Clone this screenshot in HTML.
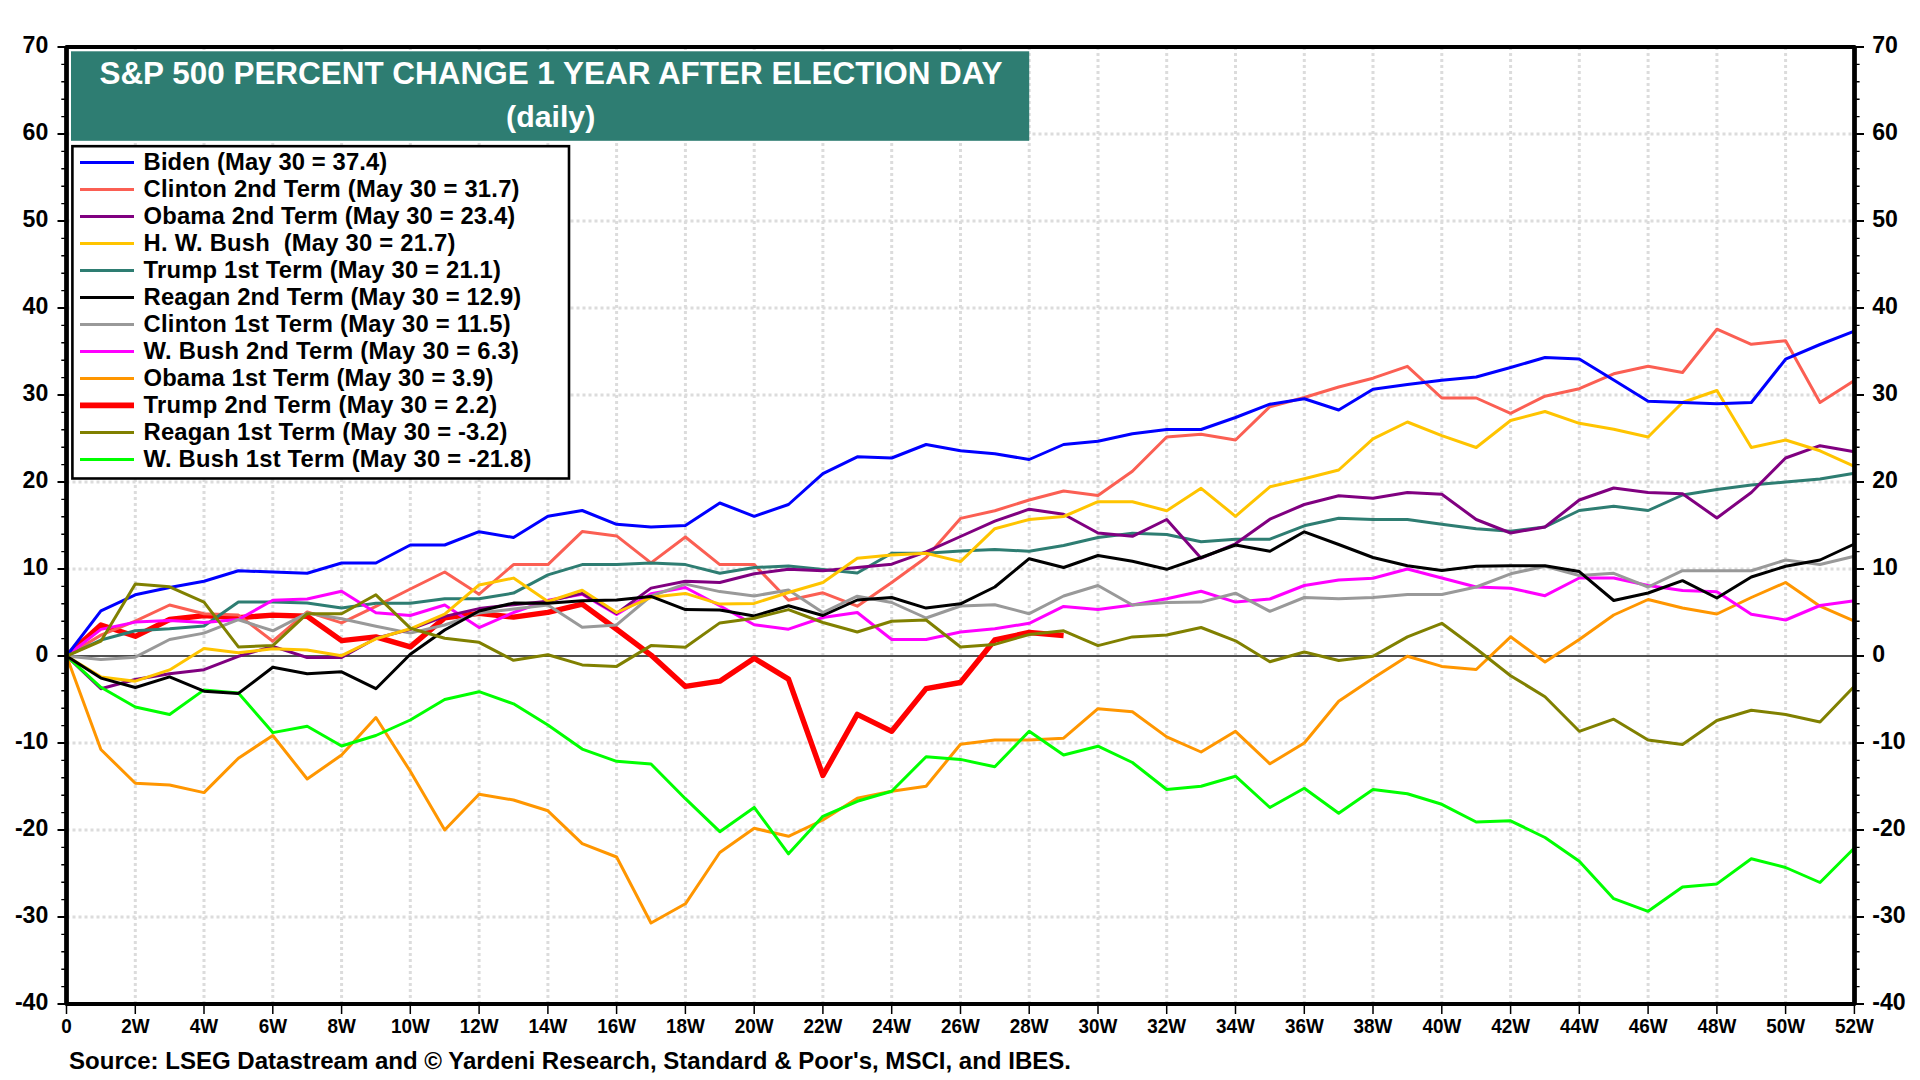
<!DOCTYPE html><html><head><meta charset="utf-8"><title>S&amp;P 500 Percent Change 1 Year After Election Day</title>
<style>html,body{margin:0;padding:0;background:#fff}body{width:1920px;height:1080px;overflow:hidden}svg{display:block}text{font-family:"Liberation Sans",sans-serif;font-weight:bold}</style></head><body>
<svg width="1920" height="1080" viewBox="0 0 1920 1080">
<rect width="1920" height="1080" fill="#fff"/>
<path d="M135.3 47V1002M204.0 47V1002M272.8 47V1002M341.6 47V1002M410.3 47V1002M479.1 47V1002M547.9 47V1002M616.6 47V1002M685.4 47V1002M754.2 47V1002M822.9 47V1002M891.7 47V1002M960.5 47V1002M1029.2 47V1002M1098.0 47V1002M1166.7 47V1002M1235.5 47V1002M1304.3 47V1002M1373.0 47V1002M1441.8 47V1002M1510.6 47V1002M1579.3 47V1002M1648.1 47V1002M1716.9 47V1002M1785.6 47V1002M66.5 917.0H1852M66.5 830.0H1852M66.5 743.0H1852M66.5 569.0H1852M66.5 482.0H1852M66.5 395.0H1852M66.5 308.0H1852M66.5 221.0H1852M66.5 134.0H1852" stroke="#dcdcdc" stroke-width="3" stroke-dasharray="3 3" fill="none"/>
<path d="M67 656.0H1854" stroke="#505050" stroke-width="2" fill="none"/>
<path d="M66.5 656.0 L100.9 625.0 L135.3 636.3 L169.6 619.5 L204.0 615.6 L238.4 617.7 L272.8 615.1 L307.2 616.2 L341.6 640.6 L375.9 636.9 L410.3 646.9 L444.7 617.9 L479.1 613.4 L513.5 617.1 L547.9 612.3 L582.2 604.1 L616.6 629.2 L651.0 655.1 L685.4 686.4 L719.8 681.2 L754.2 658.3 L788.5 679.1 L822.9 775.5 L857.3 714.3 L891.7 731.3 L926.1 688.6 L960.5 682.5 L994.8 640.0 L1029.2 632.5 L1063.6 635.5" stroke="#ff0000" stroke-width="5.4" fill="none" stroke-linejoin="round" stroke-linecap="butt"/>
<path d="M66.5 656.0 L100.9 749.5 L135.3 783.3 L169.6 785.0 L204.0 792.6 L238.4 758.2 L272.8 735.5 L307.2 779.0 L341.6 755.0 L375.9 717.5 L410.3 771.3 L444.7 830.0 L479.1 794.3 L513.5 800.0 L547.9 810.8 L582.2 843.7 L616.6 857.0 L651.0 923.0 L685.4 903.8 L719.8 852.5 L754.2 828.3 L788.5 836.3 L822.9 820.0 L857.3 798.2 L891.7 791.3 L926.1 786.2 L960.5 744.3 L994.8 740.0 L1029.2 740.0 L1063.6 738.2 L1098.0 708.7 L1132.4 711.7 L1166.7 736.9 L1201.1 752.0 L1235.5 731.3 L1269.9 763.8 L1304.3 743.0 L1338.7 701.2 L1373.0 678.3 L1407.4 656.3 L1441.8 666.4 L1476.2 669.5 L1510.6 636.8 L1545.0 662.0 L1579.3 639.5 L1613.7 615.0 L1648.1 599.5 L1682.5 608.0 L1716.9 614.0 L1751.3 597.5 L1785.6 582.5 L1820.0 606.2 L1854.4 621.2" stroke="#ff9600" stroke-width="3" fill="none" stroke-linejoin="round" stroke-linecap="butt"/>
<path d="M66.5 656.0 L100.9 635.1 L135.3 621.2 L169.6 605.0 L204.0 613.7 L238.4 615.1 L272.8 641.2 L307.2 611.9 L341.6 622.9 L375.9 606.4 L410.3 589.0 L444.7 572.0 L479.1 594.2 L513.5 564.6 L547.9 564.6 L582.2 531.6 L616.6 535.9 L651.0 562.9 L685.4 537.0 L719.8 564.6 L754.2 564.6 L788.5 600.3 L822.9 592.8 L857.3 606.2 L891.7 582.5 L926.1 557.5 L960.5 518.4 L994.8 510.7 L1029.2 500.0 L1063.6 491.0 L1098.0 495.5 L1132.4 471.2 L1166.7 437.0 L1201.1 434.2 L1235.5 440.0 L1269.9 406.7 L1304.3 397.5 L1338.7 387.0 L1373.0 378.2 L1407.4 366.3 L1441.8 398.0 L1476.2 398.0 L1510.6 413.3 L1545.0 396.2 L1579.3 388.7 L1613.7 373.8 L1648.1 366.3 L1682.5 372.5 L1716.9 329.2 L1751.3 344.3 L1785.6 340.7 L1820.0 402.5 L1854.4 380.5" stroke="#fb5f53" stroke-width="3" fill="none" stroke-linejoin="round" stroke-linecap="butt"/>
<path d="M66.5 656.0 L100.9 640.0 L135.3 630.8 L169.6 628.8 L204.0 626.0 L238.4 602.1 L272.8 602.1 L307.2 602.9 L341.6 608.1 L375.9 603.3 L410.3 603.3 L444.7 598.8 L479.1 598.8 L513.5 593.1 L547.9 574.9 L582.2 564.6 L616.6 564.6 L651.0 563.0 L685.4 564.6 L719.8 573.3 L754.2 567.5 L788.5 565.9 L822.9 569.4 L857.3 573.0 L891.7 553.3 L926.1 553.3 L960.5 551.0 L994.8 549.5 L1029.2 551.3 L1063.6 545.5 L1098.0 537.5 L1132.4 533.2 L1166.7 534.5 L1201.1 541.8 L1235.5 539.2 L1269.9 539.2 L1304.3 525.8 L1338.7 518.3 L1373.0 519.5 L1407.4 519.5 L1441.8 524.3 L1476.2 528.7 L1510.6 531.2 L1545.0 527.0 L1579.3 510.5 L1613.7 506.3 L1648.1 510.5 L1682.5 495.0 L1716.9 489.5 L1751.3 485.0 L1785.6 482.0 L1820.0 479.0 L1854.4 473.3" stroke="#2e7d72" stroke-width="3" fill="none" stroke-linejoin="round" stroke-linecap="butt"/>
<path d="M66.5 656.0 L100.9 629.4 L135.3 622.1 L169.6 620.6 L204.0 622.5 L238.4 619.5 L272.8 600.3 L307.2 599.0 L341.6 591.2 L375.9 612.8 L410.3 615.5 L444.7 605.0 L479.1 627.6 L513.5 612.5 L547.9 600.3 L582.2 594.2 L616.6 614.4 L651.0 593.8 L685.4 587.5 L719.8 605.8 L754.2 624.7 L788.5 629.2 L822.9 617.5 L857.3 612.5 L891.7 639.5 L926.1 639.5 L960.5 632.0 L994.8 628.8 L1029.2 623.3 L1063.6 606.4 L1098.0 609.4 L1132.4 605.0 L1166.7 598.8 L1201.1 591.3 L1235.5 602.1 L1269.9 599.0 L1304.3 585.5 L1338.7 580.0 L1373.0 578.2 L1407.4 569.0 L1441.8 578.0 L1476.2 587.0 L1510.6 588.2 L1545.0 595.7 L1579.3 578.0 L1613.7 578.0 L1648.1 585.5 L1682.5 590.5 L1716.9 591.7 L1751.3 614.2 L1785.6 620.0 L1820.0 605.5 L1854.4 600.8" stroke="#ff00ff" stroke-width="3" fill="none" stroke-linejoin="round" stroke-linecap="butt"/>
<path d="M66.5 656.0 L100.9 659.4 L135.3 657.2 L169.6 639.5 L204.0 633.1 L238.4 619.7 L272.8 630.8 L307.2 613.1 L341.6 618.8 L375.9 626.2 L410.3 633.1 L444.7 625.0 L479.1 613.1 L513.5 609.0 L547.9 605.1 L582.2 627.3 L616.6 624.9 L651.0 596.0 L685.4 584.1 L719.8 591.6 L754.2 596.0 L788.5 590.0 L822.9 612.5 L857.3 596.2 L891.7 602.5 L926.1 618.0 L960.5 606.0 L994.8 604.8 L1029.2 613.7 L1063.6 596.0 L1098.0 585.5 L1132.4 605.0 L1166.7 602.5 L1201.1 602.1 L1235.5 593.2 L1269.9 611.3 L1304.3 597.5 L1338.7 598.8 L1373.0 597.5 L1407.4 594.5 L1441.8 594.5 L1476.2 587.0 L1510.6 573.8 L1545.0 566.2 L1579.3 575.5 L1613.7 573.3 L1648.1 587.0 L1682.5 570.7 L1716.9 570.7 L1751.3 570.7 L1785.6 560.0 L1820.0 564.5 L1854.4 556.2" stroke="#999999" stroke-width="3" fill="none" stroke-linejoin="round" stroke-linecap="butt"/>
<path d="M66.5 656.0 L100.9 688.7 L135.3 679.5 L169.6 673.7 L204.0 669.7 L238.4 656.3 L272.8 646.4 L307.2 657.5 L341.6 657.5 L375.9 638.2 L410.3 629.4 L444.7 616.4 L479.1 608.6 L513.5 604.7 L547.9 601.2 L582.2 593.4 L616.6 613.4 L651.0 588.1 L685.4 581.2 L719.8 582.5 L754.2 573.8 L788.5 569.3 L822.9 570.7 L857.3 567.5 L891.7 564.2 L926.1 551.8 L960.5 536.5 L994.8 521.2 L1029.2 509.2 L1063.6 514.3 L1098.0 533.0 L1132.4 536.3 L1166.7 519.5 L1201.1 558.2 L1235.5 543.8 L1269.9 519.2 L1304.3 504.5 L1338.7 495.7 L1373.0 498.3 L1407.4 492.5 L1441.8 494.2 L1476.2 519.5 L1510.6 533.0 L1545.0 527.0 L1579.3 500.0 L1613.7 488.0 L1648.1 492.5 L1682.5 493.7 L1716.9 518.0 L1751.3 492.5 L1785.6 458.0 L1820.0 445.7 L1854.4 451.7" stroke="#800080" stroke-width="3" fill="none" stroke-linejoin="round" stroke-linecap="butt"/>
<path d="M66.5 656.0 L100.9 687.3 L135.3 707.0 L169.6 714.5 L204.0 689.9 L238.4 693.0 L272.8 732.6 L307.2 726.2 L341.6 746.0 L375.9 735.5 L410.3 720.0 L444.7 699.5 L479.1 691.7 L513.5 703.8 L547.9 725.0 L582.2 749.1 L616.6 761.3 L651.0 764.0 L685.4 798.7 L719.8 831.7 L754.2 807.4 L788.5 853.8 L822.9 816.3 L857.3 801.3 L891.7 791.3 L926.1 756.7 L960.5 759.4 L994.8 766.8 L1029.2 731.3 L1063.6 755.0 L1098.0 746.2 L1132.4 762.5 L1166.7 789.5 L1201.1 786.2 L1235.5 776.2 L1269.9 807.5 L1304.3 788.2 L1338.7 813.2 L1373.0 789.5 L1407.4 793.7 L1441.8 804.3 L1476.2 822.0 L1510.6 820.8 L1545.0 837.5 L1579.3 861.2 L1613.7 898.7 L1648.1 911.3 L1682.5 887.0 L1716.9 883.9 L1751.3 858.7 L1785.6 867.5 L1820.0 882.5 L1854.4 848.0" stroke="#00ff00" stroke-width="3" fill="none" stroke-linejoin="round" stroke-linecap="butt"/>
<path d="M66.5 656.0 L100.9 676.9 L135.3 681.2 L169.6 669.9 L204.0 648.5 L238.4 652.8 L272.8 648.8 L307.2 650.0 L341.6 655.7 L375.9 638.8 L410.3 628.8 L444.7 614.2 L479.1 585.0 L513.5 578.1 L547.9 601.5 L582.2 590.3 L616.6 612.5 L651.0 597.3 L685.4 593.4 L719.8 604.1 L754.2 603.4 L788.5 592.5 L822.9 582.5 L857.3 558.2 L891.7 555.1 L926.1 553.3 L960.5 561.6 L994.8 528.7 L1029.2 519.5 L1063.6 516.5 L1098.0 501.7 L1132.4 501.7 L1166.7 510.7 L1201.1 488.3 L1235.5 516.3 L1269.9 486.8 L1304.3 478.8 L1338.7 470.0 L1373.0 438.8 L1407.4 422.0 L1441.8 435.7 L1476.2 447.5 L1510.6 420.5 L1545.0 411.5 L1579.3 423.3 L1613.7 429.3 L1648.1 437.0 L1682.5 402.5 L1716.9 390.5 L1751.3 447.5 L1785.6 440.0 L1820.0 450.8 L1854.4 466.3" stroke="#ffc400" stroke-width="3" fill="none" stroke-linejoin="round" stroke-linecap="butt"/>
<path d="M66.5 656.0 L100.9 678.1 L135.3 687.5 L169.6 676.9 L204.0 691.2 L238.4 693.4 L272.8 667.3 L307.2 673.7 L341.6 671.8 L375.9 688.7 L410.3 654.3 L444.7 630.0 L479.1 611.0 L513.5 603.1 L547.9 603.3 L582.2 600.8 L616.6 600.1 L651.0 596.4 L685.4 609.6 L719.8 610.0 L754.2 616.0 L788.5 605.8 L822.9 615.5 L857.3 600.0 L891.7 597.5 L926.1 608.1 L960.5 603.8 L994.8 587.0 L1029.2 558.7 L1063.6 567.5 L1098.0 555.5 L1132.4 561.3 L1166.7 569.3 L1201.1 557.5 L1235.5 545.0 L1269.9 551.3 L1304.3 531.8 L1338.7 544.5 L1373.0 557.5 L1407.4 565.8 L1441.8 570.5 L1476.2 566.2 L1510.6 565.8 L1545.0 565.8 L1579.3 571.6 L1613.7 600.5 L1648.1 593.0 L1682.5 580.7 L1716.9 598.0 L1751.3 577.0 L1785.6 566.2 L1820.0 560.0 L1854.4 544.0" stroke="#000000" stroke-width="3" fill="none" stroke-linejoin="round" stroke-linecap="butt"/>
<path d="M66.5 656.0 L100.9 610.8 L135.3 594.8 L169.6 587.5 L204.0 581.2 L238.4 570.7 L272.8 572.1 L307.2 573.3 L341.6 563.0 L375.9 563.0 L410.3 545.0 L444.7 545.0 L479.1 531.7 L513.5 537.5 L547.9 516.2 L582.2 510.5 L616.6 524.3 L651.0 527.0 L685.4 525.5 L719.8 503.0 L754.2 516.3 L788.5 504.5 L822.9 473.7 L857.3 456.8 L891.7 458.0 L926.1 444.5 L960.5 450.8 L994.8 453.7 L1029.2 459.5 L1063.6 444.5 L1098.0 441.3 L1132.4 433.7 L1166.7 429.5 L1201.1 429.5 L1235.5 417.5 L1269.9 404.2 L1304.3 398.7 L1338.7 410.0 L1373.0 389.3 L1407.4 384.6 L1441.8 380.2 L1476.2 377.0 L1510.6 367.5 L1545.0 357.5 L1579.3 359.0 L1613.7 380.0 L1648.1 401.3 L1682.5 402.5 L1716.9 403.8 L1751.3 402.5 L1785.6 359.2 L1820.0 344.5 L1854.4 331.2" stroke="#0000ff" stroke-width="3" fill="none" stroke-linejoin="round" stroke-linecap="butt"/>
<path d="M66.5 656.0 L100.9 641.2 L135.3 584.0 L169.6 586.8 L204.0 602.1 L238.4 646.9 L272.8 645.6 L307.2 613.7 L341.6 613.7 L375.9 594.8 L410.3 628.2 L444.7 638.2 L479.1 642.3 L513.5 660.3 L547.9 654.7 L582.2 664.9 L616.6 666.4 L651.0 645.6 L685.4 647.3 L719.8 622.9 L754.2 618.3 L788.5 609.6 L822.9 622.5 L857.3 632.0 L891.7 621.2 L926.1 620.0 L960.5 647.0 L994.8 644.4 L1029.2 634.5 L1063.6 630.8 L1098.0 645.6 L1132.4 636.9 L1166.7 635.0 L1201.1 627.5 L1235.5 640.8 L1269.9 661.7 L1304.3 652.0 L1338.7 660.5 L1373.0 656.3 L1407.4 636.9 L1441.8 623.3 L1476.2 648.8 L1510.6 675.7 L1545.0 696.7 L1579.3 731.3 L1613.7 719.2 L1648.1 740.0 L1682.5 744.5 L1716.9 720.5 L1751.3 710.3 L1785.6 714.5 L1820.0 722.0 L1854.4 686.3" stroke="#808000" stroke-width="3" fill="none" stroke-linejoin="round" stroke-linecap="butt"/>
<rect x="71" y="51.3" width="958.2" height="89.5" fill="#2e7d72"/>
<text x="551" y="84.2" font-size="31.45" fill="#fff" text-anchor="middle">S&amp;P 500 PERCENT CHANGE 1 YEAR AFTER ELECTION DAY</text>
<text x="550.7" y="126.8" font-size="30.3" fill="#fff" text-anchor="middle">(daily)</text>
<rect x="72.4" y="146.2" width="496.6" height="332.3" fill="#fff" stroke="#000" stroke-width="2.6"/>
<path d="M80 162.4H134" stroke="#0000ff" stroke-width="3"/>
<text x="143.6" y="170.1" font-size="23.8" letter-spacing="0.115" xml:space="preserve">Biden (May 30 = 37.4)</text>
<path d="M80 189.4H134" stroke="#fb5f53" stroke-width="3"/>
<text x="143.6" y="197.1" font-size="23.8" letter-spacing="0.218" xml:space="preserve">Clinton 2nd Term (May 30 = 31.7)</text>
<path d="M80 216.4H134" stroke="#800080" stroke-width="3"/>
<text x="143.6" y="224.1" font-size="23.8" letter-spacing="0.129" xml:space="preserve">Obama 2nd Term (May 30 = 23.4)</text>
<path d="M80 243.4H134" stroke="#ffc400" stroke-width="3"/>
<text x="143.6" y="251.1" font-size="23.8" letter-spacing="0.217" xml:space="preserve">H. W. Bush  (May 30 = 21.7)</text>
<path d="M80 270.4H134" stroke="#2e7d72" stroke-width="3"/>
<text x="143.6" y="278.1" font-size="23.8" letter-spacing="0.184" xml:space="preserve">Trump 1st Term (May 30 = 21.1)</text>
<path d="M80 297.4H134" stroke="#000000" stroke-width="3"/>
<text x="143.6" y="305.1" font-size="23.8" letter-spacing="0.150" xml:space="preserve">Reagan 2nd Term (May 30 = 12.9)</text>
<path d="M80 324.4H134" stroke="#999999" stroke-width="3"/>
<text x="143.6" y="332.1" font-size="23.8" letter-spacing="0.227" xml:space="preserve">Clinton 1st Term (May 30 = 11.5)</text>
<path d="M80 351.4H134" stroke="#ff00ff" stroke-width="3"/>
<text x="143.6" y="359.1" font-size="23.8" letter-spacing="0.253" xml:space="preserve">W. Bush 2nd Term (May 30 = 6.3)</text>
<path d="M80 378.4H134" stroke="#ff9600" stroke-width="3"/>
<text x="143.6" y="386.1" font-size="23.8" letter-spacing="0.111" xml:space="preserve">Obama 1st Term (May 30 = 3.9)</text>
<path d="M80 405.4H134" stroke="#ff0000" stroke-width="5.6"/>
<text x="143.6" y="413.1" font-size="23.8" letter-spacing="0.243" xml:space="preserve">Trump 2nd Term (May 30 = 2.2)</text>
<path d="M80 432.4H134" stroke="#808000" stroke-width="3"/>
<text x="143.6" y="440.1" font-size="23.8" letter-spacing="0.127" xml:space="preserve">Reagan 1st Term (May 30 = -3.2)</text>
<path d="M80 459.4H134" stroke="#00ff00" stroke-width="3"/>
<text x="143.6" y="467.1" font-size="23.8" letter-spacing="0.212" xml:space="preserve">W. Bush 1st Term (May 30 = -21.8)</text>
<rect x="66.5" y="47" width="1788" height="957" fill="none" stroke="#000" stroke-width="4" stroke-linejoin="round"/>
<path d="M66.5 46V1005M1854.5 46V1005" stroke="#000" stroke-width="4.5" fill="none"/>
<path d="M57.5 1004.0H65M1856 1004.0H1864M57.5 917.0H65M1856 917.0H1864M57.5 830.0H65M1856 830.0H1864M57.5 743.0H65M1856 743.0H1864M57.5 656.0H65M1856 656.0H1864M57.5 569.0H65M1856 569.0H1864M57.5 482.0H65M1856 482.0H1864M57.5 395.0H65M1856 395.0H1864M57.5 308.0H65M1856 308.0H1864M57.5 221.0H65M1856 221.0H1864M57.5 134.0H65M1856 134.0H1864M57.5 47.0H65M1856 47.0H1864" stroke="#000" stroke-width="2"/>
<path d="M61.3 986.6H65M1856 986.6H1859.6M61.3 969.2H65M1856 969.2H1859.6M61.3 951.8H65M1856 951.8H1859.6M61.3 934.4H65M1856 934.4H1859.6M61.3 899.6H65M1856 899.6H1859.6M61.3 882.2H65M1856 882.2H1859.6M61.3 864.8H65M1856 864.8H1859.6M61.3 847.4H65M1856 847.4H1859.6M61.3 812.6H65M1856 812.6H1859.6M61.3 795.2H65M1856 795.2H1859.6M61.3 777.8H65M1856 777.8H1859.6M61.3 760.4H65M1856 760.4H1859.6M61.3 725.6H65M1856 725.6H1859.6M61.3 708.2H65M1856 708.2H1859.6M61.3 690.8H65M1856 690.8H1859.6M61.3 673.4H65M1856 673.4H1859.6M61.3 638.6H65M1856 638.6H1859.6M61.3 621.2H65M1856 621.2H1859.6M61.3 603.8H65M1856 603.8H1859.6M61.3 586.4H65M1856 586.4H1859.6M61.3 551.6H65M1856 551.6H1859.6M61.3 534.2H65M1856 534.2H1859.6M61.3 516.8H65M1856 516.8H1859.6M61.3 499.4H65M1856 499.4H1859.6M61.3 464.6H65M1856 464.6H1859.6M61.3 447.2H65M1856 447.2H1859.6M61.3 429.8H65M1856 429.8H1859.6M61.3 412.4H65M1856 412.4H1859.6M61.3 377.6H65M1856 377.6H1859.6M61.3 360.2H65M1856 360.2H1859.6M61.3 342.8H65M1856 342.8H1859.6M61.3 325.4H65M1856 325.4H1859.6M61.3 290.6H65M1856 290.6H1859.6M61.3 273.2H65M1856 273.2H1859.6M61.3 255.8H65M1856 255.8H1859.6M61.3 238.4H65M1856 238.4H1859.6M61.3 203.6H65M1856 203.6H1859.6M61.3 186.2H65M1856 186.2H1859.6M61.3 168.8H65M1856 168.8H1859.6M61.3 151.4H65M1856 151.4H1859.6M61.3 116.6H65M1856 116.6H1859.6M61.3 99.2H65M1856 99.2H1859.6M61.3 81.8H65M1856 81.8H1859.6M61.3 64.4H65M1856 64.4H1859.6" stroke="#000" stroke-width="1.4"/>
<path d="M66.5 1005V1014M135.3 1005V1014M204.0 1005V1014M272.8 1005V1014M341.6 1005V1014M410.3 1005V1014M479.1 1005V1014M547.9 1005V1014M616.6 1005V1014M685.4 1005V1014M754.2 1005V1014M822.9 1005V1014M891.7 1005V1014M960.5 1005V1014M1029.2 1005V1014M1098.0 1005V1014M1166.7 1005V1014M1235.5 1005V1014M1304.3 1005V1014M1373.0 1005V1014M1441.8 1005V1014M1510.6 1005V1014M1579.3 1005V1014M1648.1 1005V1014M1716.9 1005V1014M1785.6 1005V1014M1854.4 1005V1014" stroke="#000" stroke-width="1.5"/>
<text transform="translate(48.3 1009.8) scale(1 1.05)" font-size="23.1" text-anchor="end">-40</text>
<text transform="translate(1872.2 1009.8) scale(1 1.05)" font-size="23.1">-40</text>
<text transform="translate(48.3 922.8) scale(1 1.05)" font-size="23.1" text-anchor="end">-30</text>
<text transform="translate(1872.2 922.8) scale(1 1.05)" font-size="23.1">-30</text>
<text transform="translate(48.3 835.8) scale(1 1.05)" font-size="23.1" text-anchor="end">-20</text>
<text transform="translate(1872.2 835.8) scale(1 1.05)" font-size="23.1">-20</text>
<text transform="translate(48.3 748.8) scale(1 1.05)" font-size="23.1" text-anchor="end">-10</text>
<text transform="translate(1872.2 748.8) scale(1 1.05)" font-size="23.1">-10</text>
<text transform="translate(48.3 661.8) scale(1 1.05)" font-size="23.1" text-anchor="end">0</text>
<text transform="translate(1872.2 661.8) scale(1 1.05)" font-size="23.1">0</text>
<text transform="translate(48.3 574.8) scale(1 1.05)" font-size="23.1" text-anchor="end">10</text>
<text transform="translate(1872.2 574.8) scale(1 1.05)" font-size="23.1">10</text>
<text transform="translate(48.3 487.8) scale(1 1.05)" font-size="23.1" text-anchor="end">20</text>
<text transform="translate(1872.2 487.8) scale(1 1.05)" font-size="23.1">20</text>
<text transform="translate(48.3 400.8) scale(1 1.05)" font-size="23.1" text-anchor="end">30</text>
<text transform="translate(1872.2 400.8) scale(1 1.05)" font-size="23.1">30</text>
<text transform="translate(48.3 313.8) scale(1 1.05)" font-size="23.1" text-anchor="end">40</text>
<text transform="translate(1872.2 313.8) scale(1 1.05)" font-size="23.1">40</text>
<text transform="translate(48.3 226.8) scale(1 1.05)" font-size="23.1" text-anchor="end">50</text>
<text transform="translate(1872.2 226.8) scale(1 1.05)" font-size="23.1">50</text>
<text transform="translate(48.3 139.8) scale(1 1.05)" font-size="23.1" text-anchor="end">60</text>
<text transform="translate(1872.2 139.8) scale(1 1.05)" font-size="23.1">60</text>
<text transform="translate(48.3 52.8) scale(1 1.05)" font-size="23.1" text-anchor="end">70</text>
<text transform="translate(1872.2 52.8) scale(1 1.05)" font-size="23.1">70</text>
<text transform="translate(66.5 1033) scale(1 1.06)" font-size="18.9" text-anchor="middle">0</text>
<text transform="translate(135.3 1033) scale(1 1.06)" font-size="18.9" text-anchor="middle">2W</text>
<text transform="translate(204.0 1033) scale(1 1.06)" font-size="18.9" text-anchor="middle">4W</text>
<text transform="translate(272.8 1033) scale(1 1.06)" font-size="18.9" text-anchor="middle">6W</text>
<text transform="translate(341.6 1033) scale(1 1.06)" font-size="18.9" text-anchor="middle">8W</text>
<text transform="translate(410.3 1033) scale(1 1.06)" font-size="18.9" text-anchor="middle">10W</text>
<text transform="translate(479.1 1033) scale(1 1.06)" font-size="18.9" text-anchor="middle">12W</text>
<text transform="translate(547.9 1033) scale(1 1.06)" font-size="18.9" text-anchor="middle">14W</text>
<text transform="translate(616.6 1033) scale(1 1.06)" font-size="18.9" text-anchor="middle">16W</text>
<text transform="translate(685.4 1033) scale(1 1.06)" font-size="18.9" text-anchor="middle">18W</text>
<text transform="translate(754.2 1033) scale(1 1.06)" font-size="18.9" text-anchor="middle">20W</text>
<text transform="translate(822.9 1033) scale(1 1.06)" font-size="18.9" text-anchor="middle">22W</text>
<text transform="translate(891.7 1033) scale(1 1.06)" font-size="18.9" text-anchor="middle">24W</text>
<text transform="translate(960.5 1033) scale(1 1.06)" font-size="18.9" text-anchor="middle">26W</text>
<text transform="translate(1029.2 1033) scale(1 1.06)" font-size="18.9" text-anchor="middle">28W</text>
<text transform="translate(1098.0 1033) scale(1 1.06)" font-size="18.9" text-anchor="middle">30W</text>
<text transform="translate(1166.7 1033) scale(1 1.06)" font-size="18.9" text-anchor="middle">32W</text>
<text transform="translate(1235.5 1033) scale(1 1.06)" font-size="18.9" text-anchor="middle">34W</text>
<text transform="translate(1304.3 1033) scale(1 1.06)" font-size="18.9" text-anchor="middle">36W</text>
<text transform="translate(1373.0 1033) scale(1 1.06)" font-size="18.9" text-anchor="middle">38W</text>
<text transform="translate(1441.8 1033) scale(1 1.06)" font-size="18.9" text-anchor="middle">40W</text>
<text transform="translate(1510.6 1033) scale(1 1.06)" font-size="18.9" text-anchor="middle">42W</text>
<text transform="translate(1579.3 1033) scale(1 1.06)" font-size="18.9" text-anchor="middle">44W</text>
<text transform="translate(1648.1 1033) scale(1 1.06)" font-size="18.9" text-anchor="middle">46W</text>
<text transform="translate(1716.9 1033) scale(1 1.06)" font-size="18.9" text-anchor="middle">48W</text>
<text transform="translate(1785.6 1033) scale(1 1.06)" font-size="18.9" text-anchor="middle">50W</text>
<text transform="translate(1854.4 1033) scale(1 1.06)" font-size="18.9" text-anchor="middle">52W</text>
<text x="69.1" y="1068.9" font-size="24.04">Source: LSEG Datastream and © Yardeni Research, Standard &amp; Poor's, MSCI, and IBES.</text>
</svg></body></html>
